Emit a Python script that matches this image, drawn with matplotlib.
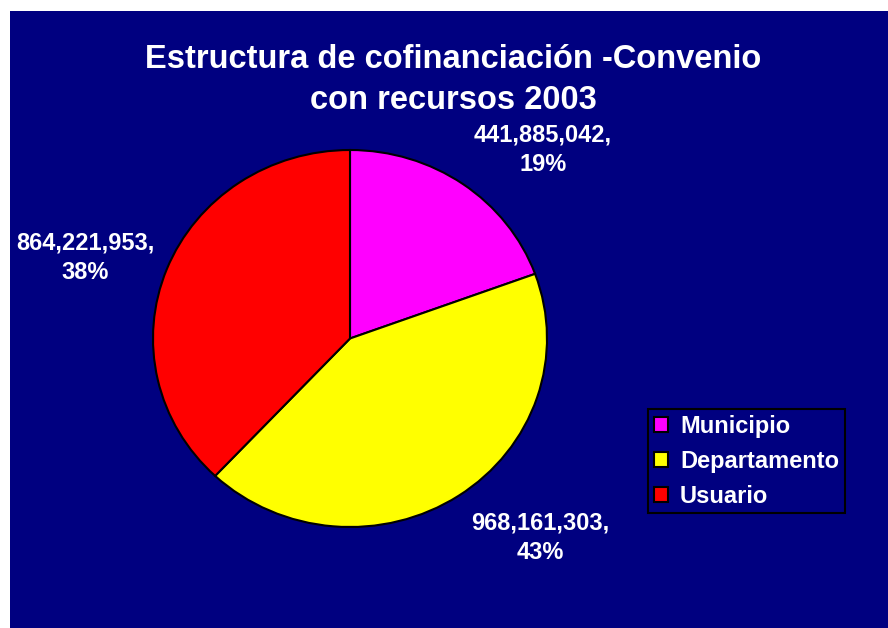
import matplotlib
matplotlib.use("Agg")
import matplotlib.pyplot as plt
from matplotlib.patches import Rectangle

# Datos del gráfico
categorias = ["Municipio", "Departamento", "Usuario"]
valores = [441885042, 968161303, 864221953]
colores = ["#FF00FF", "#FFFF00", "#FF0000"]
titulo = "Estructura de cofinanciación -Convenio\ncon recursos 2003"

plt.rcParams["font.family"] = ["Liberation Sans", "DejaVu Sans"]
plt.rcParams["font.weight"] = "bold"

W, H = 888, 628
fig = plt.figure(figsize=(W / 100, H / 100), dpi=100, facecolor="white")

# Fondo azul marino
fig.patches.append(Rectangle((10 / W, 0), (W - 10) / W, (H - 11) / H,
                             transform=fig.transFigure, facecolor="#000080",
                             edgecolor="none", zorder=-10))

# Eje del pastel (ligeramente elíptico como en el original)
ax = fig.add_axes([153 / W, (H - 527) / H, 394 / W, 377 / H])
ax.set_zorder(1)
ax.set_facecolor("none")
wedges, _ = ax.pie(valores, colors=colores, startangle=90, counterclock=False,
                   radius=1, wedgeprops=dict(edgecolor="black", linewidth=1.5))
ax.set_aspect("auto")
ax.set_xlim(-1, 1)
ax.set_ylim(-1, 1)
ax.axis("off")

# Etiquetas de datos
total = sum(valores)
pos_etiquetas = [(0.98, 1.0), (0.964, -1.058), (-1.345, 0.427)]
for v, (x, y) in zip(valores, pos_etiquetas):
    texto = f"{v:,},\n{round(v / total * 100):.0f}%"
    ax.text(x, y, texto, ha="center", va="center", color="white",
            fontsize=17, fontweight="bold", linespacing=1.35, clip_on=False)

# Título
fig.text(453 / W, 1 - 80 / H, titulo, ha="center", va="center", color="white",
         fontsize=23.5, fontweight="bold", linespacing=1.42)

# Leyenda
leg = fig.legend(wedges, categorias, loc="upper left",
                 bbox_to_anchor=(648 / W, 1 - 409 / H), borderaxespad=0,
                 frameon=True, fancybox=False, facecolor="#000080",
                 edgecolor="black", fontsize=17, labelcolor="white",
                 handlelength=0.6, handleheight=0.6, handletextpad=0.5,
                 labelspacing=0.5, borderpad=0.25)
leg.set_zorder(2)
leg.get_frame().set_linewidth(1.5)
leg.get_frame().set_alpha(1)
for t in leg.get_texts():
    t.set_fontweight("bold")

fig.savefig("out.png", dpi=100, facecolor=fig.get_facecolor())
